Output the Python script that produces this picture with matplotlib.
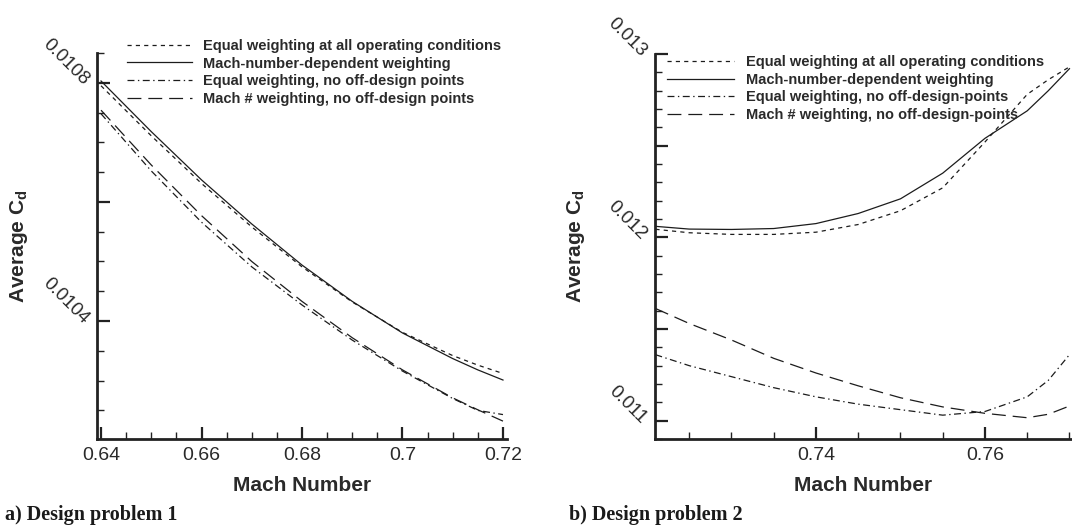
import numpy as np
import matplotlib
matplotlib.use("Agg")
import matplotlib.pyplot as plt
from matplotlib.ticker import MultipleLocator, FixedLocator, FixedFormatter

plt.rcParams['font.family'] = ['Liberation Sans', 'DejaVu Sans']
plt.rcParams['mathtext.fontset'] = 'custom'
plt.rcParams['mathtext.rm'] = 'Liberation Sans:bold'
plt.rcParams['mathtext.bf'] = 'Liberation Sans:bold'
plt.rcParams['lines.scale_dashes'] = False

# ---- design problem 1 ----
mach1 = [0.64, 0.65, 0.66, 0.67, 0.68, 0.69, 0.70, 0.71, 0.715, 0.72]
cd1_equal = [0.010795, 0.010711, 0.010631, 0.010558, 0.010491, 0.010432, 0.010381, 0.010342, 0.010326, 0.010312]
cd1_mach = [0.010803, 0.010718, 0.010637, 0.010563, 0.010494, 0.010433, 0.010380, 0.010337, 0.010318, 0.010301]
cd1_equal_nooff = [0.010748, 0.010652, 0.010566, 0.010491, 0.010427, 0.010368, 0.010316, 0.010270, 0.010250, 0.010243]
cd1_mach_nooff = [0.010754, 0.010662, 0.010577, 0.010500, 0.010433, 0.010372, 0.010318, 0.010271, 0.010251, 0.010232]

# ---- design problem 2 ----
mach2 = [0.721, 0.725, 0.730, 0.735, 0.740, 0.745, 0.750, 0.755, 0.760, 0.765, 0.7675, 0.770]
cd2_equal = [0.012044, 0.012025, 0.012016, 0.012016, 0.012028, 0.012070, 0.012145, 0.012270, 0.012520, 0.012780, 0.012860, 0.012930]
cd2_mach = [0.012060, 0.012045, 0.012043, 0.012048, 0.012075, 0.012130, 0.012210, 0.012350, 0.012540, 0.012690, 0.012800, 0.012920]
cd2_equal_nooff = [0.011360, 0.011300, 0.011240, 0.011180, 0.011130, 0.011090, 0.011060, 0.011030, 0.011050, 0.011130, 0.011220, 0.011360]
cd2_mach_nooff = [0.011612, 0.011530, 0.011440, 0.011340, 0.011260, 0.011190, 0.011125, 0.011075, 0.011040, 0.011016, 0.011035, 0.011080]

labels1 = ['Equal weighting at all operating conditions',
           'Mach-number-dependent weighting',
           'Equal weighting, no off-design points',
           'Mach # weighting, no off-design points']
labels2 = ['Equal weighting at all operating conditions',
           'Mach-number-dependent weighting',
           'Equal weighting, no off-design-points',
           'Mach # weighting, no off-design-points']

ink = '#1c1c1c'
styles = [(0, (3, 3)), '-', (0, (5, 2.5, 1, 2.5)), (0, (10, 5))]

fig = plt.figure(figsize=(10.72, 5.25), dpi=100)
ax1 = fig.add_axes([97/1072, 86/525, 410/1072, 386/525])
ax2 = fig.add_axes([655/1072, 86/525, 417/1072, 385/525])


def style_axes(ax):
    for s in ['top', 'right']:
        ax.spines[s].set_visible(False)
    for s in ['left', 'bottom']:
        ax.spines[s].set_linewidth(2.0)
        ax.spines[s].set_color('#222222')
    ax.tick_params(which='major', direction='in', length=9, width=1.6, color='#222222')
    ax.tick_params(which='minor', direction='in', length=5, width=1.0, color='#222222')
    ax.tick_params(axis='x', which='major', labelsize=14, pad=6, labelcolor='#2a2a2a')
    ax.tick_params(axis='y', which='major', labelsize=13.5, pad=8, labelcolor='#2a2a2a')
    for t in ax.get_yticklabels():
        t.set_rotation(-45)
        t.set_rotation_mode('anchor')
        t.set_ha('right')
        t.set_va('center')
    ax.set_xlabel('Mach Number', fontsize=15, fontweight='bold', color='#2a2a2a')
    ax.set_ylabel(r'Average C$_{\mathbf{d}}$', fontsize=15, fontweight='bold', color='#2a2a2a')
    ax.xaxis.set_label_coords(0.5, -0.097)
    ax.yaxis.set_label_coords(-0.163, 0.5)


# left panel
for y, ls, lab in zip([cd1_equal, cd1_mach, cd1_equal_nooff, cd1_mach_nooff], styles, labels1):
    ax1.plot(mach1, y, ls=ls, color=ink, lw=0.9, label=lab)
ax1.set_xlim(0.6392, 0.7208)
ax1.set_ylim(0.010202, 0.01085)
ax1.xaxis.set_major_locator(FixedLocator([0.64, 0.66, 0.68, 0.70, 0.72]))
ax1.xaxis.set_major_formatter(FixedFormatter(['0.64', '0.66', '0.68', '0.7', '0.72']))
ax1.xaxis.set_minor_locator(MultipleLocator(0.005))
ax1.yaxis.set_major_locator(FixedLocator([0.0104, 0.0106, 0.0108]))
ax1.yaxis.set_major_formatter(FixedFormatter(['0.0104', '', '0.0108']))
ax1.yaxis.set_minor_locator(MultipleLocator(0.00005))
style_axes(ax1)
leg1 = ax1.legend(loc='upper left', bbox_to_anchor=(0.06, 1.052), frameon=False,
                  handlelength=4.4, handletextpad=0.8, labelspacing=0.26,
                  prop={'weight': 'bold', 'size': 10.5}, borderaxespad=0)
for t in leg1.get_texts():
    t.set_color('#2a2a2a')

# right panel
for y, ls, lab in zip([cd2_equal, cd2_mach, cd2_equal_nooff, cd2_mach_nooff], styles, labels2):
    ax2.plot(mach2, y, ls=ls, color=ink, lw=0.9, label=lab)
ax2.set_xlim(0.72095, 0.7703)
ax2.set_ylim(0.0109, 0.013)
ax2.xaxis.set_major_locator(FixedLocator([0.74, 0.76]))
ax2.xaxis.set_major_formatter(FixedFormatter(['0.74', '0.76']))
ax2.xaxis.set_minor_locator(MultipleLocator(0.005))
ax2.yaxis.set_major_locator(FixedLocator([0.011, 0.0115, 0.012, 0.0125, 0.013]))
ax2.yaxis.set_major_formatter(FixedFormatter(['0.011', '', '0.012', '', '0.013']))
ax2.yaxis.set_minor_locator(MultipleLocator(0.0001))
style_axes(ax2)
leg2 = ax2.legend(loc='upper left', bbox_to_anchor=(0.015, 1.013), frameon=False,
                  handlelength=4.6, handletextpad=0.8, labelspacing=0.26,
                  prop={'weight': 'bold', 'size': 10.5}, borderaxespad=0)
for t in leg2.get_texts():
    t.set_color('#2a2a2a')

# panel captions
fig.text(5/1072, 5/525, 'a) Design problem 1', family='Liberation Serif',
         fontweight='bold', fontsize=14.5, color='#1a1a1a')
fig.text(569/1072, 5/525, 'b) Design problem 2', family='Liberation Serif',
         fontweight='bold', fontsize=14.5, color='#1a1a1a')

fig.savefig('out.png', dpi=100)
